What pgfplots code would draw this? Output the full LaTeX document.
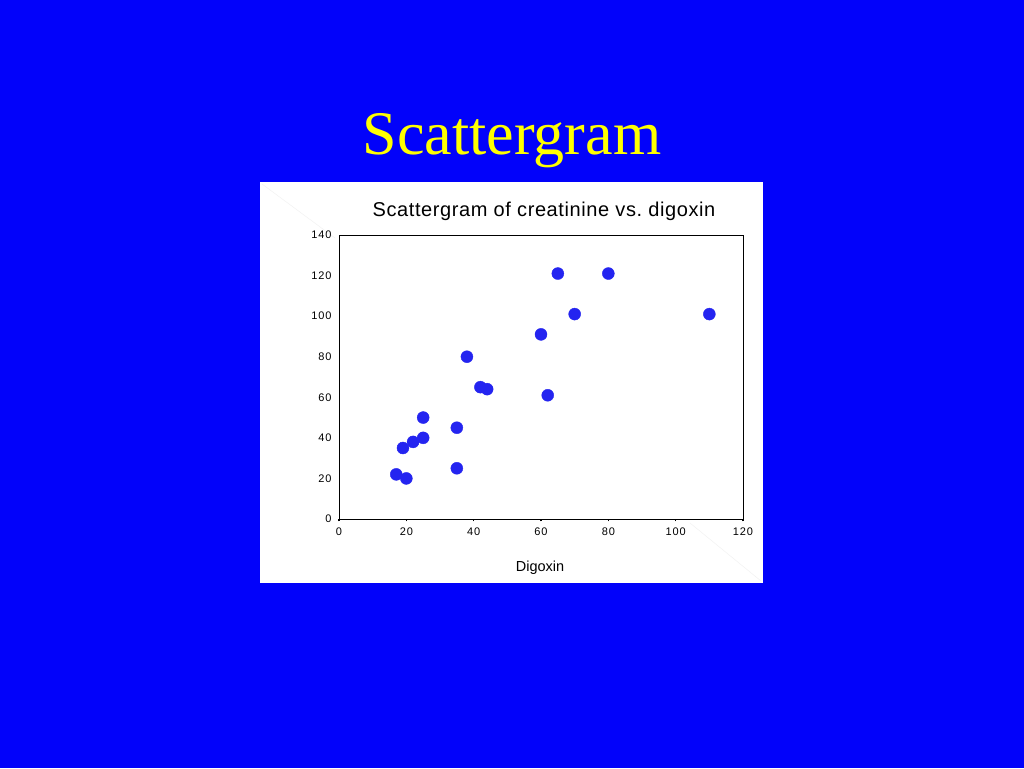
\documentclass[border=0pt]{standalone}
\usepackage{pgfplots}
\pgfplotsset{compat=1.18}
\usepackage{fontspec}
\setmainfont{Liberation Sans}
\newfontfamily\seriffont{Liberation Serif}
\newfontfamily\tickfont[LetterSpace=8]{Liberation Sans}
\newfontfamily\titlefont[LetterSpace=3]{Liberation Sans}
\definecolor{bgblue}{RGB}{2,2,250}
\definecolor{titleyellow}{RGB}{255,255,0}
\definecolor{ptblue}{RGB}{36,36,240}
\pgfplotstableread{
x y
17 22
20 20
19 35
22 38
25 40
25 50
35 45
35 25
38 80
42 65
44 64
60 91
62 61
65 121
70 101
80 121
110 101
}\datatable
\begin{document}
\begin{tikzpicture}[x=1pt,y=1pt]
\fill[bgblue] (0,0) rectangle (1024,768);
\fill[white] (260,185) rectangle (763,586);
\draw[black!6] (262,584) -- (335,530);
\draw[black!6] (690,245) -- (761,187);
\node[font=\seriffont\fontsize{62}{62}\selectfont, text=titleyellow] at (512,627) {Scattergram};
\node[font=\titlefont\fontsize{20}{22}\selectfont] at (544,557) {Scattergram of creatinine vs.\ digoxin};
\node[font=\fontsize{14.5}{16}\selectfont] at (540,200) {Digoxin};
\begin{axis}[
  scale only axis,
  width=404pt, height=284pt,
  at={(339pt,249pt)}, anchor=south west,
  xmin=0, xmax=120, ymin=0, ymax=140,
  xtick={0,20,...,120}, ytick={0,20,...,140},
  tick label style={font=\tickfont\fontsize{11}{12}\selectfont},
  /pgf/number format/assume math mode=true,
  xtick pos=bottom, ytick pos=left,
  xtick align=outside,
  major x tick style={black, line width=1.2pt},
  major tick length=2.5pt,
  ytick style={draw=none},
  axis line style={black, line width=0.9pt},
  x tick label style={yshift=-3pt},
  y tick label style={xshift=-4pt},
  clip=false,
]
\addplot[only marks, mark=*, mark size=6pt, mark options={fill=ptblue, draw=ptblue}] table[x=x,y=y] {\datatable};
\end{axis}
\end{tikzpicture}
\end{document}
